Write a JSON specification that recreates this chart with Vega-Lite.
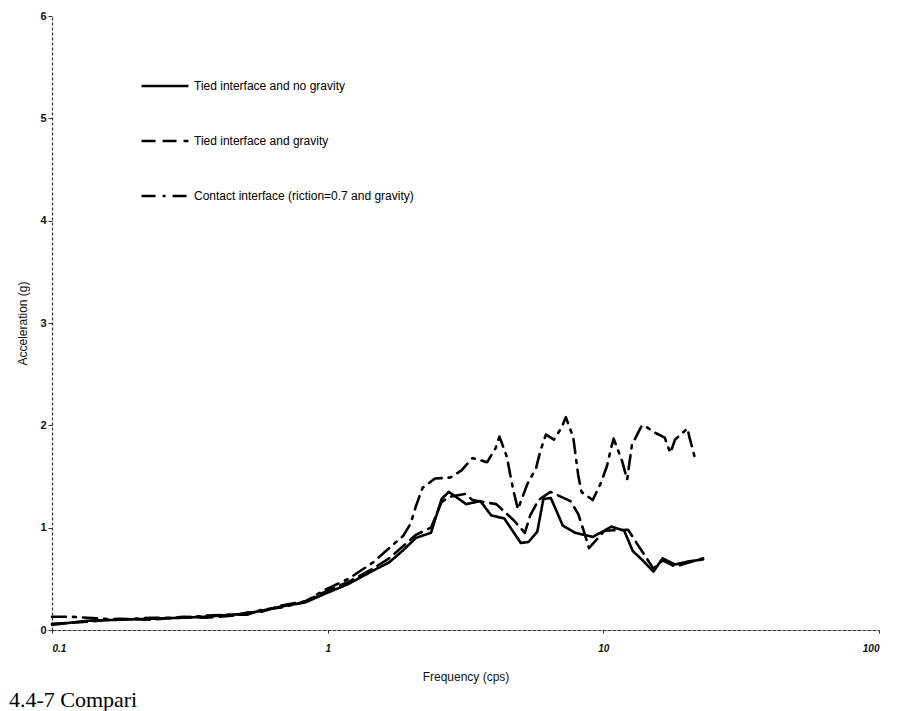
{
  "$schema": "https://vega.github.io/schema/vega-lite/v6.json",
  "width": 900,
  "height": 711,
  "autosize": {"type": "fit", "contains": "padding"},
  "padding": {"left": 8, "right": 20, "top": 10, "bottom": 0},
  "background": "white",
  "title": {"text": "4.4-7 Compari", "orient": "bottom", "anchor": "start", "font": "Liberation Serif", "fontSize": 22, "fontWeight": "normal", "color": "#000", "offset": 8, "dx": -8},
  "config": {
    "view": {"stroke": null},
    "font": "Liberation Sans"
  },
  "data": {"values": [
    {"s": "Tied interface and no gravity", "f": 0.1, "a": 0.05},
    {"s": "Tied interface and no gravity", "f": 0.134, "a": 0.09},
    {"s": "Tied interface and no gravity", "f": 0.175, "a": 0.10},
    {"s": "Tied interface and no gravity", "f": 0.23, "a": 0.11},
    {"s": "Tied interface and no gravity", "f": 0.30, "a": 0.12},
    {"s": "Tied interface and no gravity", "f": 0.36, "a": 0.13},
    {"s": "Tied interface and no gravity", "f": 0.45, "a": 0.15},
    {"s": "Tied interface and no gravity", "f": 0.51, "a": 0.16},
    {"s": "Tied interface and no gravity", "f": 0.58, "a": 0.19},
    {"s": "Tied interface and no gravity", "f": 0.68, "a": 0.23},
    {"s": "Tied interface and no gravity", "f": 0.83, "a": 0.27},
    {"s": "Tied interface and no gravity", "f": 0.99, "a": 0.36},
    {"s": "Tied interface and no gravity", "f": 1.19, "a": 0.45},
    {"s": "Tied interface and no gravity", "f": 1.46, "a": 0.58},
    {"s": "Tied interface and no gravity", "f": 1.67, "a": 0.66},
    {"s": "Tied interface and no gravity", "f": 1.88, "a": 0.78},
    {"s": "Tied interface and no gravity", "f": 2.09, "a": 0.90},
    {"s": "Tied interface and no gravity", "f": 2.37, "a": 0.95},
    {"s": "Tied interface and no gravity", "f": 2.59, "a": 1.28},
    {"s": "Tied interface and no gravity", "f": 2.75, "a": 1.35},
    {"s": "Tied interface and no gravity", "f": 3.18, "a": 1.23},
    {"s": "Tied interface and no gravity", "f": 3.58, "a": 1.26},
    {"s": "Tied interface and no gravity", "f": 3.92, "a": 1.12},
    {"s": "Tied interface and no gravity", "f": 4.37, "a": 1.09},
    {"s": "Tied interface and no gravity", "f": 5.02, "a": 0.85},
    {"s": "Tied interface and no gravity", "f": 5.35, "a": 0.86},
    {"s": "Tied interface and no gravity", "f": 5.76, "a": 0.96},
    {"s": "Tied interface and no gravity", "f": 6.06, "a": 1.28},
    {"s": "Tied interface and no gravity", "f": 6.45, "a": 1.29},
    {"s": "Tied interface and no gravity", "f": 7.13, "a": 1.02},
    {"s": "Tied interface and no gravity", "f": 7.9, "a": 0.95},
    {"s": "Tied interface and no gravity", "f": 9.17, "a": 0.91},
    {"s": "Tied interface and no gravity", "f": 10.7, "a": 1.01},
    {"s": "Tied interface and no gravity", "f": 11.9, "a": 0.97},
    {"s": "Tied interface and no gravity", "f": 12.8, "a": 0.77},
    {"s": "Tied interface and no gravity", "f": 13.9, "a": 0.68},
    {"s": "Tied interface and no gravity", "f": 15.2, "a": 0.57},
    {"s": "Tied interface and no gravity", "f": 16.4, "a": 0.70},
    {"s": "Tied interface and no gravity", "f": 18.2, "a": 0.64},
    {"s": "Tied interface and no gravity", "f": 20.4, "a": 0.67},
    {"s": "Tied interface and no gravity", "f": 23, "a": 0.69},

    {"s": "Tied interface and gravity", "f": 0.1, "a": 0.06},
    {"s": "Tied interface and gravity", "f": 0.134, "a": 0.08},
    {"s": "Tied interface and gravity", "f": 0.175, "a": 0.11},
    {"s": "Tied interface and gravity", "f": 0.23, "a": 0.10},
    {"s": "Tied interface and gravity", "f": 0.30, "a": 0.13},
    {"s": "Tied interface and gravity", "f": 0.36, "a": 0.12},
    {"s": "Tied interface and gravity", "f": 0.45, "a": 0.14},
    {"s": "Tied interface and gravity", "f": 0.51, "a": 0.17},
    {"s": "Tied interface and gravity", "f": 0.58, "a": 0.18},
    {"s": "Tied interface and gravity", "f": 0.68, "a": 0.24},
    {"s": "Tied interface and gravity", "f": 0.83, "a": 0.28},
    {"s": "Tied interface and gravity", "f": 0.99, "a": 0.38},
    {"s": "Tied interface and gravity", "f": 1.19, "a": 0.47},
    {"s": "Tied interface and gravity", "f": 1.46, "a": 0.60},
    {"s": "Tied interface and gravity", "f": 1.67, "a": 0.70},
    {"s": "Tied interface and gravity", "f": 1.88, "a": 0.82},
    {"s": "Tied interface and gravity", "f": 2.09, "a": 0.93},
    {"s": "Tied interface and gravity", "f": 2.37, "a": 1.00},
    {"s": "Tied interface and gravity", "f": 2.59, "a": 1.25},
    {"s": "Tied interface and gravity", "f": 2.75, "a": 1.30},
    {"s": "Tied interface and gravity", "f": 3.16, "a": 1.33},
    {"s": "Tied interface and gravity", "f": 3.35, "a": 1.27},
    {"s": "Tied interface and gravity", "f": 4.09, "a": 1.23},
    {"s": "Tied interface and gravity", "f": 4.74, "a": 1.07},
    {"s": "Tied interface and gravity", "f": 5.19, "a": 0.95},
    {"s": "Tied interface and gravity", "f": 5.43, "a": 1.12},
    {"s": "Tied interface and gravity", "f": 5.82, "a": 1.27},
    {"s": "Tied interface and gravity", "f": 6.43, "a": 1.35},
    {"s": "Tied interface and gravity", "f": 7.6, "a": 1.26},
    {"s": "Tied interface and gravity", "f": 8.12, "a": 1.13},
    {"s": "Tied interface and gravity", "f": 8.58, "a": 0.93},
    {"s": "Tied interface and gravity", "f": 8.87, "a": 0.80},
    {"s": "Tied interface and gravity", "f": 10.1, "a": 0.97},
    {"s": "Tied interface and gravity", "f": 12.3, "a": 0.98},
    {"s": "Tied interface and gravity", "f": 13.5, "a": 0.81},
    {"s": "Tied interface and gravity", "f": 15.2, "a": 0.60},
    {"s": "Tied interface and gravity", "f": 16.4, "a": 0.68},
    {"s": "Tied interface and gravity", "f": 18.2, "a": 0.62},
    {"s": "Tied interface and gravity", "f": 20.4, "a": 0.66},
    {"s": "Tied interface and gravity", "f": 23, "a": 0.70},

    {"s": "Contact interface (riction=0.7 and gravity)", "f": 0.1, "a": 0.13},
    {"s": "Contact interface (riction=0.7 and gravity)", "f": 0.116, "a": 0.13},
    {"s": "Contact interface (riction=0.7 and gravity)", "f": 0.134, "a": 0.12},
    {"s": "Contact interface (riction=0.7 and gravity)", "f": 0.175, "a": 0.10},
    {"s": "Contact interface (riction=0.7 and gravity)", "f": 0.23, "a": 0.12},
    {"s": "Contact interface (riction=0.7 and gravity)", "f": 0.30, "a": 0.12},
    {"s": "Contact interface (riction=0.7 and gravity)", "f": 0.36, "a": 0.14},
    {"s": "Contact interface (riction=0.7 and gravity)", "f": 0.45, "a": 0.15},
    {"s": "Contact interface (riction=0.7 and gravity)", "f": 0.51, "a": 0.15},
    {"s": "Contact interface (riction=0.7 and gravity)", "f": 0.58, "a": 0.20},
    {"s": "Contact interface (riction=0.7 and gravity)", "f": 0.68, "a": 0.22},
    {"s": "Contact interface (riction=0.7 and gravity)", "f": 0.83, "a": 0.28},
    {"s": "Contact interface (riction=0.7 and gravity)", "f": 0.99, "a": 0.40},
    {"s": "Contact interface (riction=0.7 and gravity)", "f": 1.19, "a": 0.50},
    {"s": "Contact interface (riction=0.7 and gravity)", "f": 1.46, "a": 0.66},
    {"s": "Contact interface (riction=0.7 and gravity)", "f": 1.67, "a": 0.80},
    {"s": "Contact interface (riction=0.7 and gravity)", "f": 1.88, "a": 0.92},
    {"s": "Contact interface (riction=0.7 and gravity)", "f": 2.0, "a": 1.04},
    {"s": "Contact interface (riction=0.7 and gravity)", "f": 2.09, "a": 1.21},
    {"s": "Contact interface (riction=0.7 and gravity)", "f": 2.21, "a": 1.39},
    {"s": "Contact interface (riction=0.7 and gravity)", "f": 2.45, "a": 1.48},
    {"s": "Contact interface (riction=0.7 and gravity)", "f": 2.79, "a": 1.49},
    {"s": "Contact interface (riction=0.7 and gravity)", "f": 3.06, "a": 1.56},
    {"s": "Contact interface (riction=0.7 and gravity)", "f": 3.35, "a": 1.68},
    {"s": "Contact interface (riction=0.7 and gravity)", "f": 3.79, "a": 1.64},
    {"s": "Contact interface (riction=0.7 and gravity)", "f": 4.07, "a": 1.78},
    {"s": "Contact interface (riction=0.7 and gravity)", "f": 4.2, "a": 1.89},
    {"s": "Contact interface (riction=0.7 and gravity)", "f": 4.47, "a": 1.69},
    {"s": "Contact interface (riction=0.7 and gravity)", "f": 4.6, "a": 1.51},
    {"s": "Contact interface (riction=0.7 and gravity)", "f": 4.73, "a": 1.35},
    {"s": "Contact interface (riction=0.7 and gravity)", "f": 4.9, "a": 1.18},
    {"s": "Contact interface (riction=0.7 and gravity)", "f": 5.31, "a": 1.43},
    {"s": "Contact interface (riction=0.7 and gravity)", "f": 5.7, "a": 1.58},
    {"s": "Contact interface (riction=0.7 and gravity)", "f": 5.91, "a": 1.75},
    {"s": "Contact interface (riction=0.7 and gravity)", "f": 6.19, "a": 1.91},
    {"s": "Contact interface (riction=0.7 and gravity)", "f": 6.62, "a": 1.86},
    {"s": "Contact interface (riction=0.7 and gravity)", "f": 7.06, "a": 1.98},
    {"s": "Contact interface (riction=0.7 and gravity)", "f": 7.31, "a": 2.08},
    {"s": "Contact interface (riction=0.7 and gravity)", "f": 7.78, "a": 1.88},
    {"s": "Contact interface (riction=0.7 and gravity)", "f": 8.1, "a": 1.52},
    {"s": "Contact interface (riction=0.7 and gravity)", "f": 8.33, "a": 1.35},
    {"s": "Contact interface (riction=0.7 and gravity)", "f": 9.15, "a": 1.27},
    {"s": "Contact interface (riction=0.7 and gravity)", "f": 9.81, "a": 1.44},
    {"s": "Contact interface (riction=0.7 and gravity)", "f": 10.3, "a": 1.60},
    {"s": "Contact interface (riction=0.7 and gravity)", "f": 10.7, "a": 1.79},
    {"s": "Contact interface (riction=0.7 and gravity)", "f": 10.9, "a": 1.87},
    {"s": "Contact interface (riction=0.7 and gravity)", "f": 11.7, "a": 1.65},
    {"s": "Contact interface (riction=0.7 and gravity)", "f": 12.2, "a": 1.47},
    {"s": "Contact interface (riction=0.7 and gravity)", "f": 12.7, "a": 1.81},
    {"s": "Contact interface (riction=0.7 and gravity)", "f": 13.8, "a": 2.0},
    {"s": "Contact interface (riction=0.7 and gravity)", "f": 14.4, "a": 1.98},
    {"s": "Contact interface (riction=0.7 and gravity)", "f": 15.6, "a": 1.92},
    {"s": "Contact interface (riction=0.7 and gravity)", "f": 16.7, "a": 1.88},
    {"s": "Contact interface (riction=0.7 and gravity)", "f": 17.5, "a": 1.73},
    {"s": "Contact interface (riction=0.7 and gravity)", "f": 18.2, "a": 1.86},
    {"s": "Contact interface (riction=0.7 and gravity)", "f": 20.2, "a": 1.97},
    {"s": "Contact interface (riction=0.7 and gravity)", "f": 20.5, "a": 1.89},
    {"s": "Contact interface (riction=0.7 and gravity)", "f": 21.4, "a": 1.70}
  ]},
  "mark": {"type": "line", "color": "#000", "strokeWidth": 2.6, "strokeCap": "round", "strokeJoin": "round"},
  "encoding": {
    "x": {
      "field": "f", "type": "quantitative",
      "scale": {"type": "log", "domain": [0.1, 100], "nice": false},
      "axis": {
        "title": "Frequency (cps)", "titleFontSize": 12, "titleFontWeight": "normal", "titleColor": "#111", "titlePadding": 18,
        "values": [0.1, 1, 10, 100], "format": "~g", "labelFontSize": 10, "labelFontStyle": "italic", "labelFontWeight": "bold", "labelColor": "#111",
        "domainColor": "#333", "domainWidth": 1.2, "domainDash": [4, 1], "tickColor": "#333", "tickSize": 3, "labelPadding": 10, "grid": false
      }
    },
    "y": {
      "field": "a", "type": "quantitative",
      "scale": {"domain": [0, 6], "nice": false},
      "axis": {
        "title": "Acceleration (g)", "titleFontSize": 12, "titleFontWeight": "normal", "titleColor": "#111", "titlePadding": 10,
        "values": [0, 1, 2, 3, 4, 5, 6], "labelFontSize": 11, "labelFontWeight": "bold", "labelColor": "#111",
        "domainColor": "#333", "domainWidth": 1.2, "domainDash": [3, 2], "tickColor": "#333", "tickSize": 4, "grid": false
      }
    },
    "strokeDash": {
      "field": "s", "type": "nominal",
      "scale": {
        "domain": ["Tied interface and no gravity", "Tied interface and gravity", "Contact interface (riction=0.7 and gravity)"],
        "range": [[1, 0], [14, 7], [14, 7, 3, 7]]
      },
      "legend": {
        "title": null, "orient": "none", "legendX": 88, "legendY": 45,
        "symbolType": "stroke", "symbolSize": 2200, "symbolStrokeWidth": 2.6, "symbolStrokeColor": "#000",
        "labelFontSize": 12, "labelColor": "#000", "rowPadding": 24, "labelOffset": 4, "labelLimit": 400
      }
    }
  }
}
